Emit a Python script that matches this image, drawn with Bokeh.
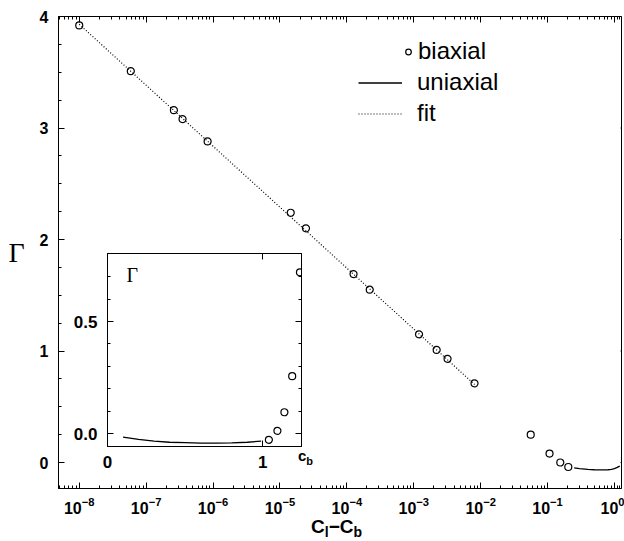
from bokeh.plotting import figure
from bokeh.models import (Range1d, FixedTicker, LogAxis, LinearAxis, Label, Legend, LegendItem,
                          PrintfTickFormatter, CustomJSTickFormatter, Div)
from bokeh.layouts import column
from bokeh.embed import file_html
from bokeh.resources import INLINE

# ---------------- data ----------------
# main panel: Gamma versus c_l - c_b (log axis)
biaxial_dc = [1.0e-8, 5.9e-8, 2.6e-7, 3.5e-7, 8.3e-7, 1.45e-5, 2.45e-5, 1.26e-4, 2.2e-4,
              1.2e-3, 2.2e-3, 3.2e-3, 8.1e-3, 0.056, 0.107, 0.155, 0.204]
biaxial_gamma = [3.92, 3.51, 3.16, 3.08, 2.88, 2.24, 2.10, 1.69, 1.55,
                 1.15, 1.01, 0.93, 0.71, 0.25, 0.08, 0.00, -0.04]
uniaxial_dc = [0.25, 0.3, 0.4, 0.5, 0.6, 0.7, 0.8, 0.9, 1.0, 1.1, 1.2]
uniaxial_gamma = [-0.048, -0.055, -0.062, -0.065, -0.066, -0.066, -0.065, -0.062, -0.055, -0.044, -0.032]
fit_dc = [1.0e-8, 8.1e-3]
fit_gamma = [3.93, 0.70]

# inset: Gamma versus c_b (linear)
inset_biaxial_cb = [1.04, 1.095, 1.14, 1.19, 1.24]
inset_biaxial_gamma = [-0.028, 0.012, 0.095, 0.256, 0.72]
inset_uniaxial_cb = [0.10, 0.2, 0.3, 0.4, 0.5, 0.6, 0.7, 0.8, 0.9, 0.99]
inset_uniaxial_gamma = [-0.016, -0.026, -0.034, -0.039, -0.041, -0.043, -0.043, -0.042, -0.039, -0.034]

main_y_ticks = [0, 1, 2, 3, 4]
main_y_minor = [-0.25, 0.25, 0.5, 0.75, 1.25, 1.5, 1.75, 2.25, 2.5, 2.75, 3.25, 3.5, 3.75]
log_decades = list(range(-8, 1))
inset_x_ticks = [0, 1]
inset_y_ticks = [0.0, 0.5]
inset_y_minor = [0.1, 0.2, 0.3, 0.4, 0.6, 0.7]

legend_labels = ["biaxial", "uniaxial", "fit"]
y_title = "Γ"
x_title_html = ("C<sub style='font-size:14px;vertical-align:-4px;line-height:0'>l</sub>−"
                "C<sub style='font-size:14px;vertical-align:-4px;line-height:0'>b</sub>")
inset_x_title_html = "c<sub style='font-size:11px;vertical-align:-4px;line-height:0'>b</sub>"

# ---------------- styling helpers ----------------
SANS = "Liberation Sans"
SERIF = "Liberation Serif"


def style_axis(ax, labels=True, size="16px"):
    ax.axis_line_color = "black"
    ax.axis_line_width = 1
    ax.major_tick_in = 6
    ax.major_tick_out = 0
    ax.minor_tick_in = 3
    ax.minor_tick_out = 0
    ax.major_tick_line_color = "black"
    ax.minor_tick_line_color = "black"
    ax.major_label_text_font = SANS
    ax.major_label_text_font_style = "bold"
    ax.major_label_text_font_size = size
    ax.major_label_text_color = "black"
    if not labels:
        ax.formatter = CustomJSTickFormatter(code="return ''")
        ax.major_label_standoff = 0


# ---------------- main figure (frame at x = 58..621, y = 16..488) ----------------
FRAME_W = 563
p = figure(width=624, height=541, x_axis_type="log",
           x_range=Range1d(10 ** -8.31, 10 ** 0.105), y_range=Range1d(-0.233, 4.0),
           output_backend="svg", toolbar_location=None, frame_align=False,
           min_border_left=58, min_border_right=3, min_border_top=16, min_border_bottom=53,
           background_fill_color="white", border_fill_color="white")
p.xgrid.visible = False
p.ygrid.visible = False
p.outline_line_color = "black"

log_major = [10.0 ** d for d in log_decades]
log_minor = [k * 10.0 ** d for d in log_decades[:-1] for k in range(2, 10)] + \
            [k * 10.0 ** -9 for k in range(5, 10)] + [1.1, 1.2]
x_ticker = FixedTicker(ticks=log_major, minor_ticks=log_minor)
y_ticker = FixedTicker(ticks=main_y_ticks, minor_ticks=main_y_minor)

p.xaxis.ticker = x_ticker
p.yaxis.ticker = y_ticker
style_axis(p.xaxis[0])
style_axis(p.yaxis[0])
p.xaxis.major_label_standoff = 8
p.yaxis.major_label_standoff = 10
p.yaxis.axis_label = y_title
p.yaxis.axis_label_orientation = "horizontal"
p.yaxis.axis_label_text_font = SERIF
p.yaxis.axis_label_text_font_size = "28px"
p.yaxis.axis_label_text_font_style = "normal"
p.yaxis.axis_label_text_color = "black"
p.yaxis.axis_label_standoff = 12

top_ax = LogAxis(ticker=x_ticker)
style_axis(top_ax, labels=False)
p.add_layout(top_ax, "above")

# right-hand mirror ticks drawn inside the frame on a pixel-like helper range
p.extra_x_ranges = {"px": Range1d(0, FRAME_W)}
p.segment(x0=[FRAME_W] * len(main_y_ticks), x1=[FRAME_W - 6] * len(main_y_ticks),
          y0=main_y_ticks, y1=main_y_ticks, x_range_name="px", line_color="black", line_width=1)
p.segment(x0=[FRAME_W] * len(main_y_minor), x1=[FRAME_W - 3] * len(main_y_minor),
          y0=main_y_minor, y1=main_y_minor, x_range_name="px", line_color="black", line_width=1)

r_fit = p.line(fit_dc, fit_gamma, line_color="black", line_width=1.2, line_dash="1 2")
r_uni = p.line(uniaxial_dc, uniaxial_gamma, line_color="black", line_width=1.3)
r_bi = p.scatter(biaxial_dc, biaxial_gamma, marker="circle", size=7, fill_color=None,
                 line_color="black", line_width=1.2)

common_leg = dict(padding=0, spacing=0, margin=0, glyph_height=31, label_height=31,
                  label_text_font=SANS, label_text_font_size="24px", label_text_color="black",
                  background_fill_alpha=0, border_line_alpha=0)
leg1 = Legend(items=[LegendItem(label=legend_labels[0], renderers=[r_bi])],
              location=(343, 421.5), glyph_width=14, label_standoff=3, **common_leg)
leg2 = Legend(items=[LegendItem(label=legend_labels[1], renderers=[r_uni]),
                     LegendItem(label=legend_labels[2], renderers=[r_fit])],
              location=(300, 359.5), glyph_width=44, label_standoff=15, **common_leg)
p.add_layout(leg1)
p.add_layout(leg2)

# ---------------- inset (frame at x = 107..301, y = 253..446) ----------------
ins = figure(width=299, height=233, x_range=Range1d(0, 1.25), y_range=Range1d(-0.058, 0.804),
             output_backend="svg", toolbar_location=None, frame_align=False,
             min_border_left=80, min_border_right=25, min_border_top=10, min_border_bottom=30,
             background_fill_color="white", border_fill_color=None, border_fill_alpha=0)
ins.margin = (-298, 0, 0, 27)
ins.xgrid.visible = False
ins.ygrid.visible = False
ins.outline_line_color = "black"

ix_ticker = FixedTicker(ticks=inset_x_ticks, minor_ticks=[])
iy_ticker = FixedTicker(ticks=inset_y_ticks, minor_ticks=inset_y_minor)
ins.xaxis.ticker = ix_ticker
ins.yaxis.ticker = iy_ticker
ins.xaxis.formatter = PrintfTickFormatter(format="%d")
ins.yaxis.formatter = PrintfTickFormatter(format="%.1f")
style_axis(ins.xaxis[0], size="17px")
style_axis(ins.yaxis[0], size="17px")
ins.xaxis.major_label_standoff = 9
ins.yaxis.major_label_standoff = 10
i_top = LinearAxis(ticker=ix_ticker)
style_axis(i_top, labels=False)
ins.add_layout(i_top, "above")
i_right = LinearAxis(ticker=iy_ticker)
style_axis(i_right, labels=False)
ins.add_layout(i_right, "right")

ins.line(inset_uniaxial_cb, inset_uniaxial_gamma, line_color="black", line_width=1.3)
ins.scatter(inset_biaxial_cb, inset_biaxial_gamma, marker="circle", size=7, fill_color=None,
            line_color="black", line_width=1.2)

ins.add_layout(Label(x=19, y=161, x_units="screen", y_units="screen", text=y_title,
                     text_font=SERIF, text_font_size="20px", text_color="black"))

# ---------------- axis titles with subscripts (HTML text) ----------------
xtitle = Div(text=x_title_html, width=80, height=22, margin=(41, 0, 0, 311),
             styles={"font-family": SANS, "font-weight": "bold", "font-size": "19px",
                     "line-height": "19px", "color": "black", "white-space": "nowrap"})
inset_xtitle = Div(text=inset_x_title_html, width=20, height=16, margin=(-91, 0, 0, 298),
                   styles={"font-family": SANS, "font-weight": "bold", "font-size": "15px",
                           "line-height": "15px", "color": "black", "white-space": "nowrap"})

layout = column(p, ins, xtitle, inset_xtitle, spacing=0)
open("out.html", "w").write(file_html(layout, INLINE))
